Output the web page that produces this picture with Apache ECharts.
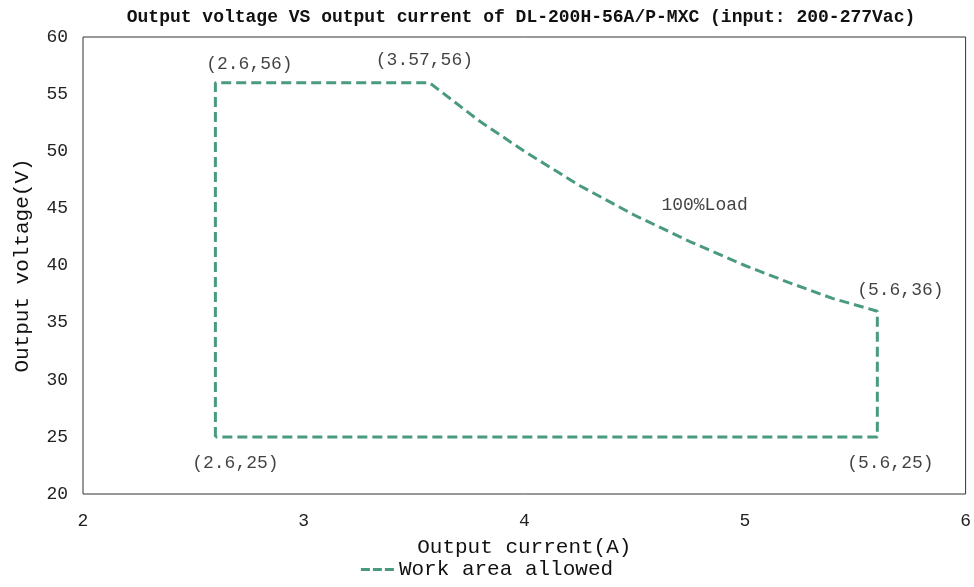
<!DOCTYPE html>
<html>
<head>
<meta charset="utf-8">
<script src="https://cdn.jsdelivr.net/npm/echarts@6/dist/echarts.min.js"></script>
<style>html,body{margin:0;padding:0;background:#fff}#c{width:974px;height:587px}</style>
</head>
<body>
<div id="c"></div>
<script>
// Data
var titleText = 'Output voltage VS output current of DL-200H-56A/P-MXC (input: 200-277Vac)';
var seriesName = 'Work area allowed';
var currentA = [2.6, 2.6, 3.57, 3.8, 4.0, 4.25, 4.5, 4.75, 5.0, 5.2, 5.4, 5.6, 5.6, 2.6];
var voltageV = [25, 56, 56, 52.6, 50, 47, 44.4, 42.1, 40, 38.5, 37.1, 36, 25, 25];
var labelPoints = [[2.6, 56], [3.57, 56], [5.6, 36], [2.6, 25], [5.6, 25], [4.5, 44.4]];
var labelTexts = ['(2.6,56)', '(3.57,56)', '(5.6,36)', '(2.6,25)', '(5.6,25)', '100%Load'];
var labelOffsets = [[34, -18], [-5, -22], [23, -21], [20, 26], [13, 26], [70, -10]];

var mono = '"Liberation Mono", "DejaVu Sans Mono", monospace';
var color = '#4a9a7f';
var chart = echarts.init(document.getElementById('c'));
var lineData = currentA.map(function (x, i) { return [x, voltageV[i]]; });
var lblData = labelPoints.map(function (p, i) {
  return {
    value: p,
    label: { show: true, formatter: labelTexts[i], offset: labelOffsets[i], position: 'inside',
      fontFamily: mono, fontSize: 18, color: '#111' }
  };
});
chart.setOption({
  animation: false,
  title: {
    text: titleText, left: 516, top: 3, textAlign: 'center',
    textStyle: { fontFamily: mono, fontWeight: 'bold', fontSize: 18, color: '#111' }
  },
  legend: {
    data: [seriesName], bottom: 2, left: 'center',
    icon: 'path://M0,0h9v3h-9z M12,0h9v3h-9z M24,0h9v3h-9z',
    itemWidth: 33, itemHeight: 3, itemGap: 4,
    textStyle: { fontFamily: mono, fontSize: 21, color: '#111' }
  },
  grid: { left: 83, right: 7, top: 37, bottom: 93, show: true, borderColor: '#333', borderWidth: 1, backgroundColor: '#fff' },
  xAxis: {
    type: 'value', min: 2, max: 6, interval: 1,
    name: 'Output current(A)', nameLocation: 'middle', nameGap: 43,
    nameTextStyle: { fontFamily: mono, fontSize: 21, color: '#111' },
    axisLine: { show: false }, axisTick: { show: false }, splitLine: { show: false },
    axisLabel: { fontFamily: mono, fontSize: 18, color: '#222', margin: 18 }
  },
  yAxis: {
    type: 'value', min: 20, max: 60, interval: 5,
    name: 'Output voltage(V)', nameLocation: 'middle', nameGap: 50, nameRotate: 90,
    nameTextStyle: { fontFamily: mono, fontSize: 21, color: '#111' },
    axisLine: { show: false }, axisTick: { show: false }, splitLine: { show: false },
    axisLabel: { fontFamily: mono, fontSize: 18, color: '#222', margin: 15 }
  },
  series: [
    {
      name: seriesName, type: 'line', data: lineData, symbol: 'none',
      lineStyle: { color: color, width: 3, type: [10, 5] }, itemStyle: { color: color }
    },
    {
      name: 'labels', type: 'scatter', data: lblData, symbolSize: 0, silent: true
    }
  ]
});
</script>
</body>
</html>
